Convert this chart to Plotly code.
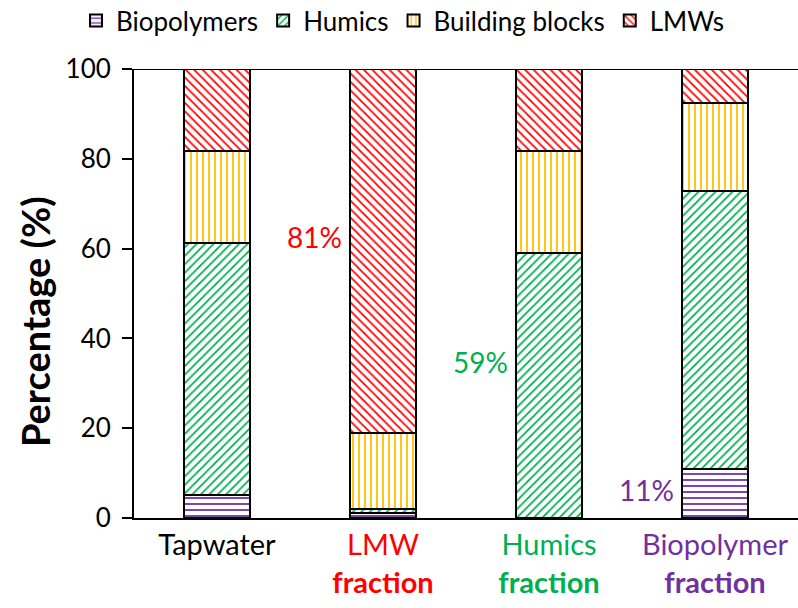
import plotly.graph_objects as go

# Samples and composition of each DOC fraction (% of total)
samples = ["Tapwater", "LMW fraction", "Humics fraction", "Biopolymer fraction"]
tick_text = [
    "Tapwater",
    "<span style='color:#FF0000'>LMW<br><b>fraction</b></span>",
    "<span style='color:#00B050'>Humics<br><b>fraction</b></span>",
    "<span style='color:#7030A0'>Biopolymer<br><b>fraction</b></span>",
]
biopolymers = [5.1, 1.1, 0.0, 11.0]
humics = [56.1, 0.9, 59.0, 61.8]
building_blocks = [20.6, 17.0, 22.7, 19.6]
lmws = [18.2, 81.0, 18.3, 7.6]

series = [
    ("Biopolymers", biopolymers, "#7030A0", "-"),
    ("Humics", humics, "#00B050", "/"),
    ("Building blocks", building_blocks, "#FFC000", "|"),
    ("LMWs", lmws, "#FF0000", "\\"),
]

FONT = "Lato, 'Open Sans', sans-serif"
xs = list(range(len(samples)))

fig = go.Figure()
for name, vals, color, shape in series:
    fig.add_trace(go.Bar(
        name=name,
        x=xs,
        y=vals,
        width=0.4,
        marker=dict(
            color="white",
            line=dict(color="black", width=2),
            pattern=dict(shape=shape, fgcolor=color, bgcolor="white",
                         size=6, solidity=0.3, fillmode="replace"),
        ),
    ))

# Highlighted share of each isolated fraction
highlights = [
    (1, 62.6, "81%", "#FF0000"),
    (2, 34.7, "59%", "#00B050"),
    (3, 6.2, "11%", "#7030A0"),
]
for xi, yi, txt, col in highlights:
    fig.add_annotation(x=xi - 0.2, y=yi, text=txt, showarrow=False,
                       xanchor="right", xshift=-6,
                       font=dict(family=FONT, size=28, color=col))

# Y-axis title, placed slightly below the plot's middle
fig.add_annotation(text="<b>Percentage (%)</b>", textangle=-90,
                   xref="paper", yref="paper", x=-0.149, y=0.4365,
                   xanchor="center", yanchor="middle", showarrow=False,
                   font=dict(family=FONT, size=38, color="black"))

# Top frame line at 100 %
fig.add_shape(type="line", xref="paper", yref="y", x0=-0.015, x1=1,
              y0=100, y1=100, line=dict(color="black", width=2))

fig.update_layout(
    barmode="stack",
    width=798, height=608,
    margin=dict(l=134, r=0, t=69, b=90, autoexpand=False),
    plot_bgcolor="white", paper_bgcolor="white",
    font=dict(family=FONT, color="black"),
    legend=dict(orientation="h", xref="container", yref="container",
                x=0.505, xanchor="center", y=0.966, yanchor="middle",
                font=dict(size=26, family=FONT),
                itemwidth=30, traceorder="normal"),
    xaxis=dict(
        tickmode="array", tickvals=xs, ticktext=tick_text,
        range=[-0.5, 3.5], showline=True, linecolor="black", linewidth=2,
        ticks="", tickfont=dict(size=29, family=FONT), showgrid=False,
    ),
    yaxis=dict(
        range=[0, 100], tickvals=[0, 20, 40, 60, 80, 100],
        showline=True, linecolor="black", linewidth=2,
        ticks="outside", ticklen=10, tickwidth=2, tickcolor="black",
        ticklabelstandoff=6,
        tickfont=dict(size=26, family=FONT), showgrid=False, zeroline=False,
    ),
)

fig.write_html("out.html")
